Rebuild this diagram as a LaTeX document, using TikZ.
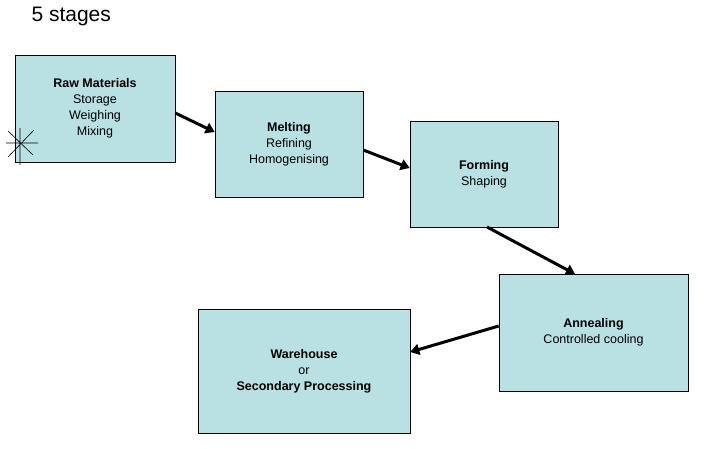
\documentclass[tikz,border=0pt]{standalone}
\usepackage{fontspec}
\setmainfont{Liberation Sans}
\usetikzlibrary{arrows.meta}
\begin{document}
\begin{tikzpicture}[x=1pt,y=-1pt,
  box/.style={draw=black,fill={rgb,255:red,185;green,224;blue,227},line width=0.6pt,inner sep=0pt,align=center,font=\fontsize{12.5}{16}\selectfont},
  arr/.style={line width=3pt,-{Triangle[length=9pt,width=11pt]}}]
\useasboundingbox (0,0) rectangle (717,448);
\node[anchor=north west,font=\fontsize{21}{24}\selectfont] (title) at (28,4) {5 stages};
\node[box,minimum width=160pt,minimum height=107pt] (raw) at (95,108.5) {\textbf{Raw Materials}\\Storage\\Weighing\\Mixing};
\node[box,minimum width=148pt,minimum height=106pt] (melt) at (289,144) {\textbf{Melting}\\Refining\\Homogenising};
\node[box,minimum width=148pt,minimum height=106pt] (form) at (484,174) {\textbf{Forming}\\Shaping};
\node[box,minimum width=189pt,minimum height=117pt] (ann) at (593.5,332.5) {\textbf{Annealing}\\Controlled cooling};
\node[box,minimum width=212pt,minimum height=124pt] (ware) at (304,371) {\textbf{Warehouse}\\or\\\textbf{Secondary Processing}};
\draw[arr] (raw.east |- 0,113) -- (melt.west |- 0,132);
\draw[arr] (melt.east |- 0,150) -- (form.west |- 0,168);
\draw[arr] (487,227) -- (575,274);
\draw[arr] (ann.west |- 0,326) -- (ware.east |- 0,352);
\coordinate (s) at (20,143);
\draw[line width=0.6pt] (6,143) -- (38,143) (20,128) -- (20,165) (8,131) -- (33,155) (8,157) -- (34,130);
\end{tikzpicture}
\end{document}
